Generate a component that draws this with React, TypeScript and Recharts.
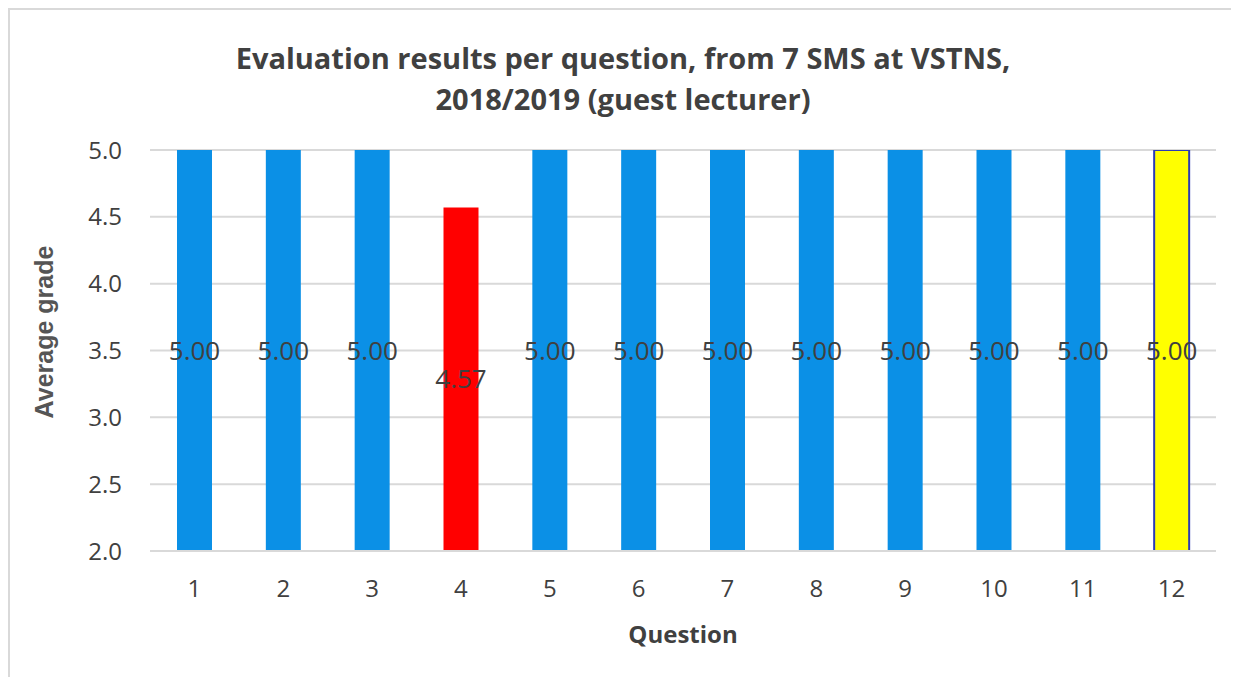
import React from "react";
import { BarChart, Bar, XAxis, YAxis, CartesianGrid, Cell, LabelList } from "recharts";

// ─── Data ─────────────────────────────────────────────────────────────────────
const questions = ["1", "2", "3", "4", "5", "6", "7", "8", "9", "10", "11", "12"];
const grades = [5.0, 5.0, 5.0, 4.57, 5.0, 5.0, 5.0, 5.0, 5.0, 5.0, 5.0, 5.0];
const yTicks = [2.0, 2.5, 3.0, 3.5, 4.0, 4.5, 5.0];

const data = questions.map((q, i) => ({ q, grade: grades[i] }));

const FONT = "'Open Sans', 'Noto Sans', sans-serif";
const TEXT = "#404040";

const barFill = (i: number) => (i === 3 ? "#ff0000" : i === 11 ? "#ffff00" : "#0b90e6");

export default function App() {
  return (
    <div
      style={{
        position: "relative",
        width: 1223,
        height: 669,
        border: "2px solid #d9d9d9",
        borderBottom: "none",
        background: "#fff",
        fontFamily: FONT,
        color: TEXT,
      }}
    >
      {/* ── Title ── */}
      <div
        style={{
          position: "absolute",
          left: -7,
          top: 27,
          width: 1240,
          textAlign: "center",
          fontSize: 29,
          fontWeight: 700,
          lineHeight: "41px",
        }}
      >
        Evaluation results per question, from 7 SMS at VSTNS,
        <br />
        2018/2019 (guest lecturer)
      </div>

      <BarChart
        width={1223}
        height={660}
        data={data}
        margin={{ top: 140, right: 17, left: 60, bottom: 59 }}
        barSize={35}
      >
        <CartesianGrid vertical={false} stroke="#d9d9d9" strokeWidth={2} />
        <XAxis
          dataKey="q"
          axisLine={{ stroke: "#d9d9d9", strokeWidth: 2 }}
          tickLine={false}
          tickSize={0}
          tickMargin={29}
          height={60}
          tick={{ fill: TEXT, fontSize: 24, fontFamily: FONT }}
        />
        <YAxis
          domain={[2, 5]}
          ticks={yTicks}
          allowDataOverflow
          axisLine={false}
          tickLine={false}
          tickSize={0}
          tickMargin={28}
          width={80}
          tickFormatter={(v: number) => v.toFixed(1)}
          tick={{ fill: TEXT, fontSize: 24, fontFamily: FONT }}
        />
        <Bar dataKey="grade" isAnimationActive={false}>
          {data.map((d, i) => (
            <Cell
              key={d.q}
              fill={barFill(i)}
              stroke={i === 11 ? "#2b3bb5" : "none"}
              strokeWidth={i === 11 ? 2 : 0}
            />
          ))}
          <LabelList
            dataKey="grade"
            position="center"
            formatter={(v: number) => v.toFixed(2)}
            style={{ fill: TEXT, fontSize: 26, fontFamily: FONT }}
          />
        </Bar>
      </BarChart>

      {/* ── Axis titles ── */}
      <div
        style={{
          position: "absolute",
          left: 34,
          top: 322,
          transform: "translate(-50%, -50%) rotate(-90deg)",
          whiteSpace: "nowrap",
          fontSize: 25,
          fontWeight: 700,
          fontFamily: "'Liberation Sans', Arial, sans-serif",
          color: "#555555",
        }}
      >
        Average grade
      </div>
      <div
        style={{
          position: "absolute",
          left: 673,
          top: 623,
          transform: "translate(-50%, -50%)",
          whiteSpace: "nowrap",
          fontSize: 24,
          fontWeight: 700,
        }}
      >
        Question
      </div>
    </div>
  );
}
